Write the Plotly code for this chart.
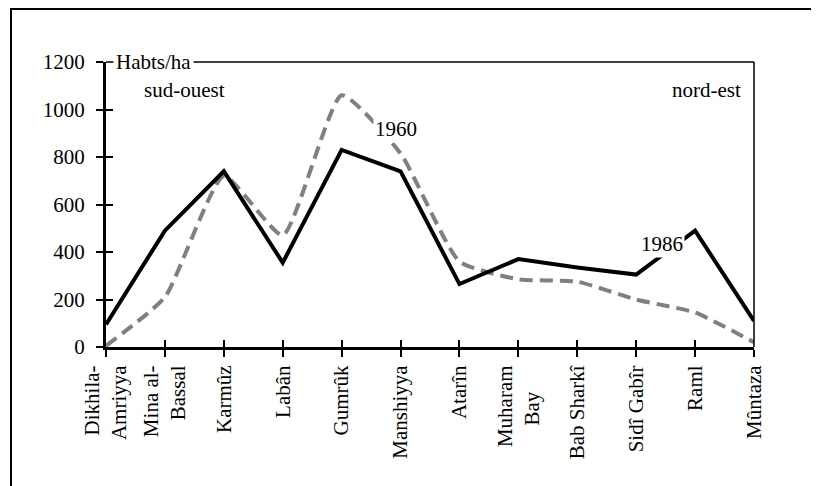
import plotly.graph_objects as go

categories = ["Dikhila-<br>Amriyya", "Mina al-<br>Bassal", "Karmûz", "Labân", "Gumrûk",
              "Manshiyya", "Atarîn", "Muharam<br>Bay", "Bab Sharkî", "Sidî Gabîr",
              "Raml", "Mûntaza"]
# tick labels as displayed (second line of "Muharam Bay" is centred in the original)
tick_labels = ["Dikhila-<br>Amriyya", "Mina al-<br>Bassal", "Karmûz", "Labân", "Gumrûk",
               "Manshiyya", "Atarîn", "Muharam<br>Bay" + "\u00a0" * 5, "Bab Sharkî",
               "Sidî Gabîr", "Raml", "Mûntaza"]
dens_1986 = [95, 490, 740, 355, 830, 740, 265, 370, 335, 305, 490, 110]
dens_1960 = [5, 210, 720, 470, 1060, 815, 360, 285, 275, 200, 145, 20]
y_ticks = [0, 200, 400, 600, 800, 1000, 1200]

FONT = "Liberation Serif, Times New Roman, serif"
fs = 21

fig = go.Figure()
fig.add_trace(go.Scatter(
    x=categories, y=dens_1960, mode="lines", name="1960",
    line=dict(color="#808080", width=4, dash="13px,7px", shape="spline", smoothing=0.5),
    hoverinfo="skip", showlegend=False, xaxis="x", yaxis="y"))
fig.add_trace(go.Scatter(
    x=categories, y=dens_1986, mode="lines", name="1986",
    line=dict(color="black", width=4),
    hoverinfo="skip", showlegend=False, xaxis="x2", yaxis="y2"))

common_x = dict(type="category", categoryorder="array", categoryarray=categories,
                range=[0, len(categories) - 1], showgrid=False, zeroline=False,
                tickwidth=2, ticklen=7, tickcolor="black")
common_y = dict(range=[0, 1200], tickvals=y_ticks, showgrid=False, zeroline=False,
                tickwidth=2, ticklen=7, tickcolor="black")

fig.update_layout(
    width=811, height=478,
    margin=dict(l=98, r=65, t=54, b=139),
    paper_bgcolor="white", plot_bgcolor="white",
    font=dict(family=FONT, size=fs, color="black"),
    xaxis=dict(**common_x, ticks="outside", showline=True, linewidth=3, linecolor="black",
               tickmode="array", tickvals=categories, ticktext=tick_labels,
               tickangle=-90, tickfont=dict(family=FONT, size=fs, color="black")),
    yaxis=dict(**common_y, ticks="outside", showline=True, linewidth=3, linecolor="black",
               ticklabelstandoff=7, tickfont=dict(family=FONT, size=fs, color="black")),
    xaxis2=dict(**common_x, overlaying="x", anchor="y2", ticks="inside",
                showticklabels=False, showline=False),
    yaxis2=dict(**common_y, overlaying="y", anchor="x2", side="left", ticks="inside",
                showticklabels=False, showline=False),
    shapes=[
        dict(type="line", xref="paper", yref="paper", x0=0, x1=1, y0=1, y1=1,
             line=dict(color="black", width=1.5)),
        dict(type="line", xref="paper", yref="paper", x0=1, x1=1, y0=0, y1=1,
             line=dict(color="black", width=1.5)),
        dict(type="rect", xref="paper", yref="paper", x0=-0.1466, x1=1.19, y0=-0.55, y1=1.186,
             line=dict(color="black", width=2), fillcolor="rgba(0,0,0,0)", layer="below"),
    ],
    annotations=[
        dict(text="Habts/ha", xref="paper", yref="paper", x=0.0108, y=1, xanchor="left",
             yanchor="middle", showarrow=False, bgcolor="white", borderpad=2,
             font=dict(family=FONT, size=fs, color="black")),
        dict(text="sud-ouest", xref="paper", yref="paper", x=0.0556, y=0.9018, xanchor="left",
             yanchor="middle", showarrow=False, font=dict(family=FONT, size=fs, color="black")),
        dict(text="nord-est", xref="paper", yref="paper", x=0.983, y=0.9018, xanchor="right",
             yanchor="middle", showarrow=False, font=dict(family=FONT, size=fs, color="black")),
        dict(text="1960", xref="x", yref="y", x=4.92, y=918, showarrow=False,
             bgcolor="white", borderpad=1, font=dict(family=FONT, size=fs, color="black")),
        dict(text="1986", xref="x", yref="y", x=9.44, y=432, showarrow=False,
             bgcolor="white", borderpad=1, font=dict(family=FONT, size=fs, color="black")),
    ],
)

fig.write_html("out.html")
